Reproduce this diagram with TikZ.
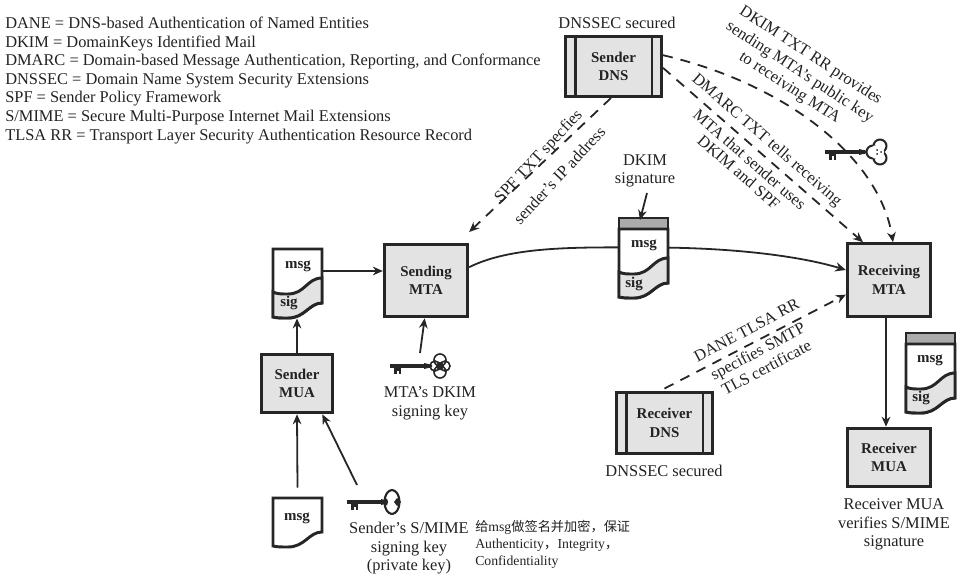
\documentclass[tikz,border=0pt]{standalone}
\usepackage{fontspec}
\setmainfont{Liberation Serif}
\newfontfamily\cjk{Noto Sans CJK SC}
\usetikzlibrary{arrows.meta}

\definecolor{boxgray}{HTML}{E3E3E3}
\definecolor{bandgray}{HTML}{ABABAB}
\definecolor{inkgray}{HTML}{222222}

\tikzset{
	lbl/.style={font=\fontsize{12.3}{13.9}\selectfont, align=center, inner sep=0pt, text=inkgray},
	boldlbl/.style={lbl, font=\fontsize{11.2}{13.9}\selectfont\bfseries},
	boxlbl/.style={draw=black!85, line width=2.2pt, fill=boxgray, inner sep=0pt, align=center, text=inkgray, font=\fontsize{11.2}{13.9}\selectfont\bfseries},
	mtabox/.style={boxlbl, minimum width=62.5pt, minimum height=54.5pt},
	muabox/.style={boxlbl, minimum width=53.5pt, minimum height=44pt},
	dnsbox/.style={boxlbl, minimum width=72pt, minimum height=45.5pt},
	sheet/.style={minimum width=36.75pt, minimum height=52pt, inner sep=0pt},
	flow/.style={line width=1.35pt, draw=black!85, -{Stealth[length=7.5pt,width=6.5pt]}},
	dashflow/.style={flow, dash pattern=on 7.5pt off 6pt},
	edge/.style={line width=2.2pt, draw=black!85, line join=miter}
}

% sheet outlines, corner of the sheet at (0,0)
\def\msgSheet{
	\draw[edge, fill=white] (0,0)--(49,0)--(49,34) .. controls (36,34) and (32,49) .. (15,49) .. controls (8,49) and (4,49) .. (0,48)--cycle;
}
\def\sigSheet{
	\draw[edge, fill=white] (0,0)--(49,0)--(49,54) .. controls (36,54) and (32,69) .. (15,69) .. controls (8,69) and (4,69) .. (0,68)--cycle;
	\draw[edge, fill=boxgray] (0,43) .. controls (4,45) and (8,45) .. (15,45) .. controls (32,45) and (34,29) .. (49,29)--(49,54) .. controls (36,54) and (32,69) .. (15,69) .. controls (8,69) and (4,69) .. (0,68)--cycle;
}
\def\bandSheet{
	\draw[edge, fill=bandgray] (0,0) rectangle (49,11);
	\begin{scope}[shift={(0,11)}]
		\sigSheet
	\end{scope}
}
\def\keyShaft{
	\draw[line width=2.6pt, black!85] (0,0)--(40,0);
	\fill[black!85] (4,0) rectangle (11,8);
	\fill[white] (6.5,4.5) rectangle (8.5,8);
	\fill[black!85] (34,-3)--(42,-1)--(42,1)--(34,3)--cycle;
}
\def\dnsBars#1{
	\draw[edge] ([xshift=8.25pt]#1.north west)--([xshift=8.25pt]#1.south west);
	\draw[edge] ([xshift=-8.25pt]#1.north east)--([xshift=-8.25pt]#1.south east);
}

\begin{document}
\begin{tikzpicture}[x=0.75pt, y=-0.75pt, line cap=butt]
	\useasboundingbox (0,0) rectangle (961,581);

	% glossary
	\node[lbl, align=left, anchor=north west] (glossary) at (5,17) {DANE = DNS-based Authentication of Named Entities\\
		DKIM = DomainKeys Identified Mail\\
		DMARC = Domain-based Message Authentication, Reporting, and Conformance\\
		DNSSEC = Domain Name System Security Extensions\\
		SPF = Sender Policy Framework\\
		S/MIME = Secure Multi-Purpose Internet Mail Extensions\\
		TLSA RR = Transport Layer Security Authentication Resource Record};

	% servers
	\node[dnsbox] (senderDNS) at (613.5,66.5) {Sender\\DNS};
	\node[mtabox] (sendingMTA) at (426,280.5) {Sending\\MTA};
	\node[mtabox] (receivingMTA) at (889,280) {Receiving\\MTA};
	\node[muabox] (senderMUA) at (297,383.5) {Sender\\MUA};
	\node[muabox, minimum width=62.5pt] (receiverMUA) at (889,457.5) {Receiver\\MUA};
	\node[dnsbox] (receiverDNS) at (664.5,423) {Receiver\\DNS};
	\dnsBars{senderDNS}
	\dnsBars{receiverDNS}

	% message on the wire
	\node[sheet] (midSheet) at (643.5,257.5) {};
	\node[sheet] (leftSheet) at (297.5,283.5) {};
	\node[sheet] (plainSheet) at (297.5,522.5) {};
	\draw[line width=1.35pt, black!85, -{Stealth[length=8pt,width=7pt]}] ([yshift=10pt]sendingMTA.east) .. controls (510,247) and (570,247) .. ([yshift=7.5pt]midSheet.center) .. controls (730,247) and (800,256) .. ([yshift=7.5pt]receivingMTA.west);

	% sheets
	\begin{scope}[shift={(619,218)}]
		\bandSheet
	\end{scope}
	\begin{scope}[shift={(273,249)}]
		\sigSheet
	\end{scope}
	\begin{scope}[shift={(906,333)}]
		\bandSheet
	\end{scope}
	\begin{scope}[shift={(273,498)}]
		\msgSheet
	\end{scope}
	\node[sheet] (rightSheet) at (930.5,372.5) {};
	\node[boldlbl] (midMsg) at (644,245) {msg};
	\node[boldlbl] (midSig) at (634,284) {sig};
	\node[boldlbl] (leftMsg) at (298,266) {msg};
	\node[boldlbl] (leftSig) at (289,303) {sig};
	\node[boldlbl] (rightMsg) at (930,360) {msg};
	\node[boldlbl] (rightSig) at (921,398) {sig};
	\node[boldlbl] (plainMsg) at (297,518) {msg};

	% solid connectors
	\draw[flow] (senderMUA.north)--(senderMUA.north |- leftSheet.south);
	\draw[flow] (leftSheet.east |- 0,271)--(sendingMTA.west |- 0,271);
	\draw[flow] (plainSheet.north)--(senderMUA.south);
	\draw[flow] (receivingMTA.south -| 886,0)--(receiverMUA.north -| 886,0);

	% dashed connectors
	\draw[dashflow] (611,98)--([yshift=8pt]sendingMTA.north east);
	\draw[dashflow] ([yshift=8.5pt]senderDNS.east) .. controls (790,85) and (880,160) .. ([xshift=3pt]receivingMTA.north);
	\draw[dashflow] ([yshift=-1pt]senderDNS.east) -- ([xshift=-19.5pt]receivingMTA.north);
	\draw[dashflow] ([yshift=2pt]receiverDNS.north) -- ([yshift=-11pt]receivingMTA.west);

	% keys
	\begin{scope}[shift={(825,152)}]
		\keyShaft
		\draw[line width=1.5pt, black!85, fill=white] (48,0) circle (6.5) (55,-6) circle (6.5) (55,6) circle (6.5);
		\fill[white] (52,0) circle (7);
		\fill[black!85] (52,-2) circle (1) (52,2) circle (1) (56,0) circle (1);
	\end{scope}
	\begin{scope}[shift={(390,366)}]
		\keyShaft
		\draw[line width=1.2pt, black!85] (45,0) circle (5) (55,0) circle (5) (50,-6) circle (6) (50,6) circle (6) (50,0) circle (3);
	\end{scope}
	\begin{scope}[shift={(347,502)}]
		\keyShaft
		\draw[line width=1.6pt, black!85, fill=white] (45,0) ellipse (7.5 and 12);
		\fill[black!85] (36,0)--(40,-3.5)--(41,0)--(40,3.5)--cycle (47,0)--(50,-4)--(54,0)--(50,4)--cycle;
	\end{scope}
	\coordinate (mtaKey) at (420,353);
	\coordinate (mimeKey) at (357,485);
	\coordinate (sigNote) at (647,193);
	\draw[flow] (mtaKey)--([xshift=-1pt]sendingMTA.south);
	\draw[flow] (mimeKey)--([xshift=19pt]senderMUA.south);
	\draw[flow] (sigNote)--(640,220);

	% captions
	\node[lbl] (topSecured) at (617,23) {DNSSEC secured};
	\node[lbl] (bottomSecured) at (664,471) {DNSSEC secured};
	\node[lbl] (dkimSig) at (645,171) {DKIM\\signature};
	\node[lbl] (mtaKeyText) at (430,403.5) {MTA’s DKIM\\signing key};
	\node[lbl] (mimeKeyText) at (409,548.5) {Sender’s S/MIME\\signing key\\(private key)};
	\node[lbl] (verifyText) at (894,524.5) {Receiver MUA\\verifies S/MIME\\signature};
	\node[lbl, align=left, anchor=north west, font=\fontsize{10.3}{12.75}\selectfont] (noteText) at (475,520.5) {{\cjk\fontsize{9.9}{12.75}\selectfont 给}msg{\cjk\fontsize{9.9}{12.75}\selectfont 做签名并加密，保证}\\Authenticity{\cjk ，}Integrity{\cjk ，}\\Confidentiality};

	% slanted labels
	\node[lbl, rotate=47] (spfText) at (548.5,165.5) {SPF TXT specfies\\[8pt]sender’s IP address};
	\node[lbl, rotate=-33] (dkimText) at (800,72) {DKIM TXT RR provides\\[1pt]sending MTA’s public key\\to receiving MTA};
	\node[lbl, rotate=-41] (dmarcText) at (753.3,155.5) {DMARC TXT tells receiving\\[6.4pt]MTA that sender uses\\[-1.4pt]DKIM and SPF};
	\node[lbl, rotate=28] (daneText) at (756.5,349) {DANE TLSA RR\\[4pt]specifies SMTP\\TLS certificate};
\end{tikzpicture}
\end{document}
